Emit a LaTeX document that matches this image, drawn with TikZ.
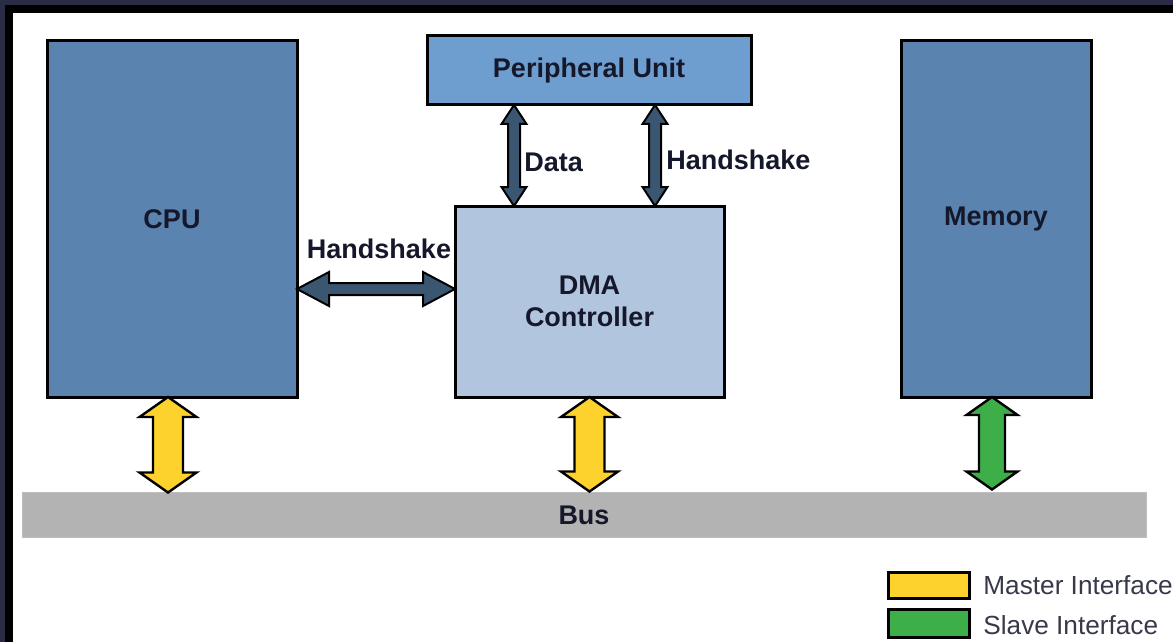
\documentclass[tikz,border=0pt]{standalone}
\usepackage{fontspec}
\setmainfont{Liberation Sans}
\usetikzlibrary{calc}

\definecolor{frameNavy}{HTML}{2A2B44}
\definecolor{cpuBlue}{HTML}{5A83B0}
\definecolor{periBlue}{HTML}{6E9ED0}
\definecolor{dmaBlue}{HTML}{B2C5DF}
\definecolor{slate}{HTML}{3A5670}
\definecolor{masterY}{HTML}{FDD22C}
\definecolor{slaveG}{HTML}{3DAE48}
\definecolor{busGray}{HTML}{B3B3B3}
\definecolor{ink}{HTML}{15172A}

% vertical double block arrow: style, top, bottom, shaft half, head half, head length
\newcommand\vbiarrow[6]{%
  \draw[#1] (#2) -- ($(#2)+(#5,#6)$) -- ($(#2)+(#4,#6)$) -- ($(#3)+(#4,-#6)$)
    -- ($(#3)+(#5,-#6)$) -- (#3) -- ($(#3)+(-#5,-#6)$) -- ($(#3)+(-#4,-#6)$)
    -- ($(#2)+(-#4,#6)$) -- ($(#2)+(-#5,#6)$) -- cycle;}
% horizontal double block arrow: style, left, right, shaft half, head half, head length
\newcommand\hbiarrow[6]{%
  \draw[#1] (#2) -- ($(#2)+(#6,-#5)$) -- ($(#2)+(#6,-#4)$) -- ($(#3)+(-#6,-#4)$)
    -- ($(#3)+(-#6,-#5)$) -- (#3) -- ($(#3)+(-#6,#5)$) -- ($(#3)+(-#6,#4)$)
    -- ($(#2)+(#6,#4)$) -- ($(#2)+(#6,#5)$) -- cycle;}

\begin{document}
\begin{tikzpicture}[x=0.5pt,y=-0.5pt,
  lbl/.style={text=ink,font=\fontsize{13.5}{15}\selectfont\bfseries,inner sep=0pt},
  legtext/.style={text=ink!85,font=\fontsize{13.1}{15}\selectfont,inner sep=0pt,anchor=west},
  unit/.style={draw=black,line width=1.5pt,inner sep=0pt,outer sep=0pt,
    text=ink,font=\fontsize{13.5}{15}\selectfont\bfseries,align=center},
  ctrl/.style={draw=black,line width=1pt,fill=slate,line join=miter},
  master/.style={draw=black,line width=1.2pt,fill=masterY,line join=miter},
  slave/.style={draw=black,line width=1.2pt,fill=slaveG,line join=miter},
  swatch/.style={draw=black,line width=1.5pt,inner sep=0pt,outer sep=0pt}]

\useasboundingbox (0,0) rectangle (1173,642);
\clip (0,0) rectangle (1173,642);

% page frame
\fill[frameNavy] (0,0) rectangle (1173,642);
\fill[black] (5,5) rectangle (1180,650);
\fill[white] (13,13) rectangle (1180,650);

% units
\node[unit,fill=cpuBlue,minimum width=125pt,minimum height=178pt] (cpu) at (172,219) {CPU};
\node[unit,fill=periBlue,minimum width=162pt,minimum height=34.5pt] (peri) at (589,70.5) {Peripheral Unit};
\node[unit,fill=dmaBlue,minimum width=134.5pt,minimum height=95.5pt] (dma) at (589.5,301.5) {DMA\\[1pt]Controller};
\node[unit,fill=cpuBlue,minimum width=95pt,minimum height=178pt] (mem) at (996,219) {Memory};
\node[fill=busGray,draw=busGray!85!white,line width=0.4pt,inner sep=0pt,outer sep=0pt,
  minimum width=562pt,minimum height=22.5pt,text=ink,font=\fontsize{13.5}{15}\selectfont\bfseries] (bus) at (584,515) {Bus};

% control paths
\coordinate (hsR) at ($(dma.west)+(0,-12.5)$);
\coordinate (hsL) at (cpu.east |- hsR);
\hbiarrow{ctrl}{hsL}{hsR}{6}{17}{32}

\coordinate (dataT) at ($(peri.south)+(-75,0)$);
\coordinate (dataB) at (dataT |- dma.north);
\vbiarrow{ctrl}{dataT}{dataB}{6}{12.5}{19}

\coordinate (hsT) at ($(peri.south)+(66,0)$);
\coordinate (hsB) at (hsT |- dma.north);
\vbiarrow{ctrl}{hsT}{hsB}{6}{12.5}{19}

\node[lbl] (lhs) at (379,249) {Handshake};
\node[lbl,anchor=west] (ldata) at (524,162) {Data};
\node[lbl,anchor=west] (lhsv) at (666,160) {Handshake};

% bus interfaces
\coordinate (cpuT) at ($(cpu.south)+(-4,0)$);
\coordinate (cpuB) at (cpuT |- bus.north);
\vbiarrow{master}{cpuT}{cpuB}{15}{28.5}{20}

\coordinate (dmaT) at (dma.south);
\coordinate (dmaB) at ($(dmaT |- bus.north)+(0,-1)$);
\vbiarrow{master}{dmaT}{dmaB}{15}{28.5}{20}

\coordinate (memT) at ($(mem.south)+(-4,0)$);
\coordinate (memB) at ($(memT |- bus.north)+(0,-3)$);
\vbiarrow{slave}{memT}{memB}{13}{25.5}{18}

% legend
\node[swatch,fill=masterY,minimum width=40.5pt,minimum height=13pt,anchor=north west] (legM) at (888,572) {};
\node[swatch,fill=slaveG,minimum width=40.5pt,minimum height=14pt,anchor=north west] (legS) at (888,609) {};
\node[legtext] (legMt) at (983,585) {Master Interface};
\node[legtext] (legSt) at (983,625) {Slave Interface};
\end{tikzpicture}
\end{document}
